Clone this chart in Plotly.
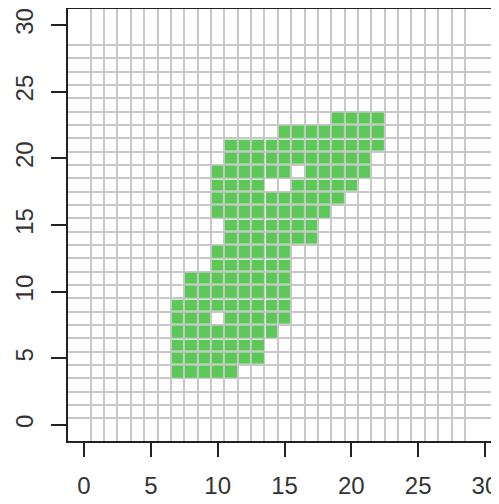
import plotly.graph_objects as go

# Green cells: for each grid row (y), the first and last filled column (x)
row_y = [23, 22, 21, 20, 19, 18, 17, 16, 15, 14, 13, 12, 11, 10, 9, 8, 7, 6, 5, 4]
row_start = [19, 15, 11, 11, 10, 10, 10, 10, 11, 11, 10, 10, 8, 8, 7, 7, 7, 7, 7, 7]
row_end = [22, 22, 22, 21, 21, 20, 19, 18, 17, 17, 15, 15, 15, 15, 15, 15, 14, 13, 13, 11]
# empty cells inside the filled region
hole_x = [16, 14, 15, 10]
hole_y = [19, 18, 18, 8]

# grid lines (cell borders) and axis ticks
grid_lines = [k + 0.5 for k in range(0, 29)]
tick_vals = [0, 5, 10, 15, 20, 25, 30]

GREEN = "#5cc857"
GRID = "#c8c8c8"

xs = list(range(min(row_start), max(row_end) + 1))
ys = list(range(min(row_y), max(row_y) + 1))
holes = set(zip(hole_x, hole_y))
z = []
for y in ys:
    row = [None] * len(xs)
    if y in row_y:
        i = row_y.index(y)
        for x in range(row_start[i], row_end[i] + 1):
            if (x, y) not in holes:
                row[xs.index(x)] = 1
    z.append(row)

fig = go.Figure(go.Heatmap(
    x=xs, y=ys, z=z,
    colorscale=[[0, GREEN], [1, GREEN]],
    showscale=False, xgap=2, ygap=2, hoverinfo="skip",
))

font = dict(family="Liberation Sans, Arial, sans-serif", size=24, color="#333333")

fig.update_layout(
    width=499, height=504,
    margin=dict(l=60, r=6, t=1, b=71),
    paper_bgcolor="white", plot_bgcolor="white",
    showlegend=False,
    font=font,
)
fig.update_xaxes(
    range=[-1.2, 31.2], tickvals=tick_vals, showgrid=False, zeroline=False,
    automargin=False,
    showline=True, linecolor="#222222", linewidth=2, mirror=True,
    ticks="outside", ticklen=14, tickwidth=2, tickcolor="#222222",
    ticklabelstandoff=8, tickfont=font,
    minor=dict(tickvals=grid_lines, showgrid=True, gridcolor=GRID, gridwidth=2, ticks=""),
)
fig.update_yaxes(
    range=[-1.2, 31.2], tickvals=tick_vals, showgrid=False, zeroline=False,
    automargin=False,
    showline=True, linecolor="#222222", linewidth=2, mirror=True,
    ticks="outside", ticklen=15, tickwidth=2, tickcolor="#222222",
    tickangle=-90, ticklabelstandoff=8, tickfont=font,
    minor=dict(tickvals=grid_lines, showgrid=True, gridcolor=GRID, gridwidth=2, ticks=""),
)

fig.write_html("out.html")
